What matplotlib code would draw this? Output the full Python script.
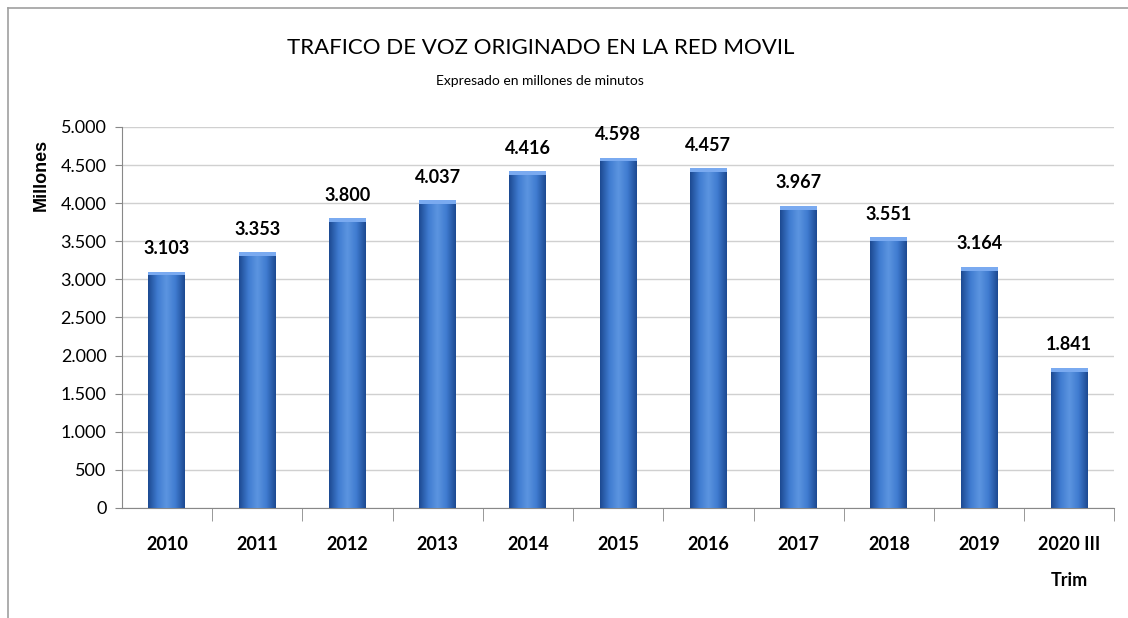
import numpy as np
import matplotlib.pyplot as plt
from matplotlib.colors import LinearSegmentedColormap
from matplotlib.lines import Line2D

# data
years = ['2010', '2011', '2012', '2013', '2014', '2015', '2016', '2017', '2018', '2019', '2020 III\nTrim']
traffic = [3103, 3353, 3800, 4037, 4416, 4598, 4457, 3967, 3551, 3164, 1841]
yticks = [0, 500, 1000, 1500, 2000, 2500, 3000, 3500, 4000, 4500, 5000]

narrow = ['Lato', 'DejaVu Sans']

def fmt(v):
    return f'{v:,}'.replace(',', '.')

fig = plt.figure(figsize=(11.28, 6.18), dpi=100)
ax = fig.add_axes([0.108, 0.178, 0.880, 0.6165])

x = np.arange(len(years))
bars = ax.bar(x, traffic, width=0.41, color='#3a72c4', zorder=2)

# horizontal gradient inside each bar (dark edges, light middle)
cmap = LinearSegmentedColormap.from_list('bar', ['#1d4a92', '#3f7bd0', '#5c95e0', '#3f7bd0', '#1d4a92'])
grad = np.linspace(0, 1, 64).reshape(1, -1)
for b in bars:
    x0, w, h = b.get_x(), b.get_width(), b.get_height()
    im = ax.imshow(grad, cmap=cmap, aspect='auto', extent=(x0, x0 + w, 0, h), zorder=3)
    im.set_clip_path(b)
    # light cap on top
    ax.bar(x0 + w / 2, 50, width=w, bottom=h - 50, color='#7aaaf0', zorder=4)
    ax.text(x0 + w / 2, h + 190, fmt(int(h)), ha='center', va='bottom',
            fontsize=13, fontweight='bold', family=narrow, zorder=5)

ax.set_xlim(-0.5, len(years) - 0.5)
ax.set_ylim(0, 5000)
ax.set_yticks(yticks)
ax.set_yticklabels([fmt(v) for v in yticks], family=narrow, fontsize=13)
ax.set_xticks(x)
ax.set_xticklabels(years, family=narrow, fontsize=13, fontweight='bold', linespacing=2.4, va='top')
ax.tick_params(axis='x', length=0, pad=20)
ax.tick_params(axis='y', length=5, color='#888888', pad=6)
ax.set_xticks(np.arange(len(years)) + 0.5, minor=True)
ax.tick_params(axis='x', which='minor', length=9, color='#888888', direction='out')

ax.grid(axis='y', color='#d0d0d0', linewidth=1, zorder=0)
for s in ['top', 'right']:
    ax.spines[s].set_visible(False)
ax.spines['left'].set_color('#888888')
ax.spines['bottom'].set_color('#888888')

fig.text(0.479, 0.923, 'TRAFICO DE VOZ ORIGINADO EN LA RED MOVIL', ha='center', va='center',
         fontsize=16, family=narrow)
fig.text(0.479, 0.869, 'Expresado en millones de minutos', ha='center', va='center',
         fontsize=10, family=narrow)
fig.text(0.037, 0.717, 'Millones', rotation=90, ha='center', va='center',
         fontsize=13, fontweight='bold', family='Liberation Sans')

# outer frame
fig.add_artist(Line2D([0.007, 0.007], [0, 0.987], color='#a0a0a0', lw=1.2, transform=fig.transFigure))
fig.add_artist(Line2D([0.007, 1.0], [0.987, 0.987], color='#a0a0a0', lw=1.2, transform=fig.transFigure))

fig.savefig('out.png', dpi=100)
